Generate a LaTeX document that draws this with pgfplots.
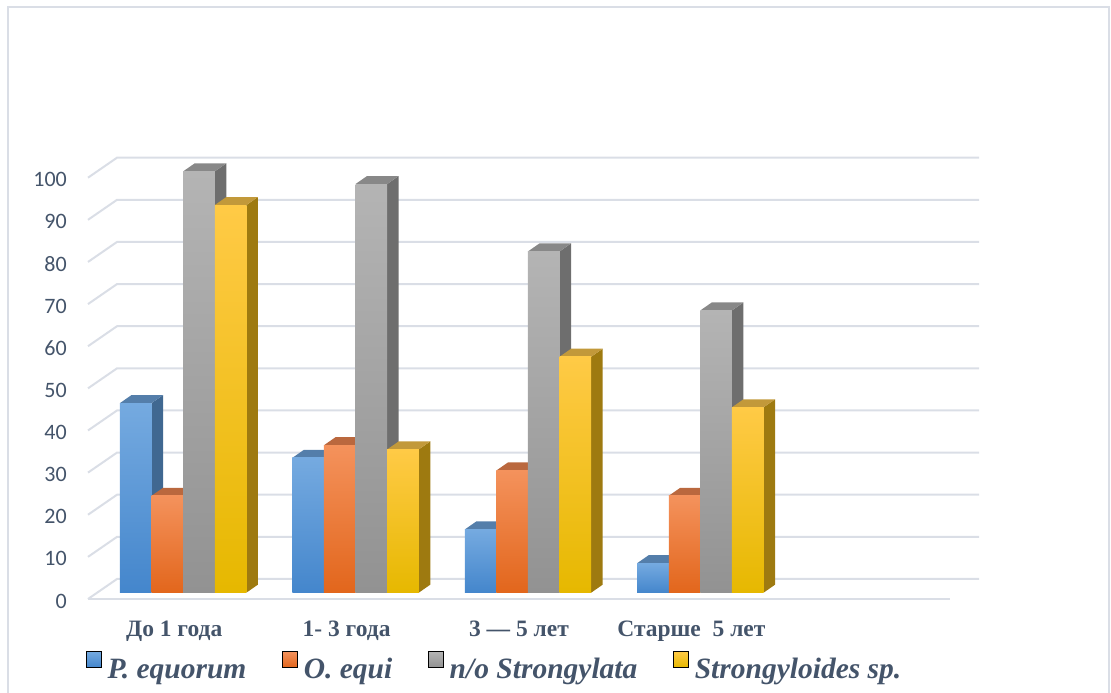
\documentclass[border=0pt]{standalone}
\usepackage{pgfplots}
\pgfplotsset{compat=1.18}
\usepackage{pgfplotstable}
\usepackage{fontspec}
\setmainfont{Liberation Serif}
\newfontfamily\calib{Carlito}
\newfontfamily\legfont{Liberation Serif}

\definecolor{gridc}{RGB}{218,222,230}
\definecolor{textc}{RGB}{68,84,106}
% front faces (top / bottom of the gradient), side and top faces
\definecolor{blueT}{RGB}{117,170,224}\definecolor{blueB}{RGB}{68,134,204}
\definecolor{blueS}{RGB}{64,104,145}\definecolor{blueU}{RGB}{84,126,170}
\definecolor{oranT}{RGB}{244,146,92}\definecolor{oranB}{RGB}{226,102,28}
\definecolor{oranS}{RGB}{176,88,38}\definecolor{oranU}{RGB}{186,104,62}
\definecolor{grayT}{RGB}{180,180,180}\definecolor{grayB}{RGB}{146,146,146}
\definecolor{grayS}{RGB}{110,110,110}\definecolor{grayU}{RGB}{136,136,136}
\definecolor{yellT}{RGB}{255,202,70}\definecolor{yellB}{RGB}{230,184,0}
\definecolor{yellS}{RGB}{158,122,16}\definecolor{yellU}{RGB}{194,153,58}

\pgfplotstableread{
grp  peq  oeq  str  sgl
0    45   23   100  92
1    32   35   97   34
2    15   29   81   56
3    7    23   67   44
}\infdata

% pseudo-3D geometry, in axis units
\def\wallx{0.1682}\def\wally{4.747}   % offset of the back wall
\def\barbase{1.5}\def\barshift{0.052} % front plane of the bars
\def\barw{0.1833}                     % bar width
\def\depx{0.0667}\def\depy{1.9}       % bar depth

% #1 column, #2 slot in group, #3/#4 front gradient, #5 side, #6 top
\newcommand\barseries[6]{%
  \pgfplotsforeachungrouped \gi in {0,1,2,3}{%
    \pgfplotstablegetelem{\gi}{#1}\of\infdata
    \let\barval\pgfplotsretval
    \pgfmathsetmacro\xl{\gi+\barshift+(#2-2)*\barw}%
    \pgfmathsetmacro\xr{\xl+\barw}%
    \pgfmathsetmacro\yt{\barbase+\barval}%
    \pgfmathsetmacro\xlb{\xl+\depx}%
    \pgfmathsetmacro\xrb{\xr+\depx}%
    \pgfmathsetmacro\ytb{\yt+\depy}%
    \pgfmathsetmacro\ybb{\barbase+\depy}%
    \edef\doplot{%
      \noexpand\addplot[forget plot, draw=none, fill=#5] coordinates {(\xr,\barbase) (\xr,\yt) (\xrb,\ytb) (\xrb,\ybb)} -- cycle;
      \noexpand\addplot[forget plot, draw=none, fill=#6] coordinates {(\xl,\yt) (\xr,\yt) (\xrb,\ytb) (\xlb,\ytb)} -- cycle;
      \noexpand\addplot[forget plot, draw=none, top color=#3, bottom color=#4] coordinates {(\xl,\barbase) (\xr,\barbase) (\xr,\yt) (\xl,\yt)} -- cycle;
    }%
    \doplot
  }%
}

\newcommand\legtext[1]{{\legfont\bfseries\itshape\fontsize{29.5}{29.5}\selectfont #1}}

\begin{document}
\begin{tikzpicture}
\path[use as bounding box] (0,0) rectangle (1111pt,693pt);
\draw[gridc, line width=2pt] (8pt,-10pt) -- (8pt,686pt) -- (1109pt,686pt) -- (1109pt,-10pt);
\begin{axis}[
  at={(88pt,94pt)}, anchor=south west,
  scale only axis, width=862pt, height=421.3pt,
  xmin=-0.5, xmax=4.5, ymin=0, ymax=100,
  clip=false,
  axis line style={draw=none},
  major tick length=0pt,
  ytick={0,10,...,100},
  xtick={0,1,2,3},
  xticklabels={До 1 года, 1- 3 года, 3 — 5 лет, Старше\ \ 5 лет},
  /pgf/number format/assume math mode=true,
  yticklabel style={font=\calib\fontsize{22}{22}\selectfont, text=textc, inner sep=0pt, anchor=east, xshift=-21pt, yshift=-2pt},
  xticklabel style={font=\bfseries\fontsize{23.5}{23.5}\selectfont, text=textc, inner sep=0pt, anchor=base, yshift=-38pt},
  legend columns=4,
  legend style={at={(0,0)}, anchor=north west, xshift=-2pt, yshift=-52pt,
    draw=none, fill=none, inner sep=0pt, text=textc,
    nodes={inner sep=0pt},
    /tikz/every even column/.append style={column sep=36pt},
    /tikz/every odd column/.append style={column sep=6pt}},
]
% back wall and side grid
\pgfplotsforeachungrouped \gv in {0,10,...,100}{%
  \pgfmathsetmacro\gb{\gv+\wally}%
  \pgfmathsetmacro\xa{-0.5+\wallx}%
  \pgfmathsetmacro\xb{4.5+\wallx}%
  \edef\doplot{\noexpand\addplot[forget plot, gridc, line width=2pt] coordinates {(-0.5,\gv) (\xa,\gb) (\xb,\gb)};}%
  \doplot
}
\addplot[forget plot, gridc, line width=2pt] coordinates {(-0.5,0) (4.5,0)};

\barseries{peq}{0}{blueT}{blueB}{blueS}{blueU}
\barseries{oeq}{1}{oranT}{oranB}{oranS}{oranU}
\barseries{str}{2}{grayT}{grayB}{grayS}{grayU}
\barseries{sgl}{3}{yellT}{yellB}{yellS}{yellU}

\addlegendimage{legend image code/.code={\shade[top color=blueT,bottom color=blueB] (0pt,2pt) rectangle (15pt,18pt);}}
\addlegendentry{\legtext{P. equorum}}
\addlegendimage{legend image code/.code={\shade[top color=oranT,bottom color=oranB] (0pt,2pt) rectangle (15pt,18pt);}}
\addlegendentry{\legtext{O. equi}}
\addlegendimage{legend image code/.code={\shade[top color=grayT,bottom color=grayB] (0pt,2pt) rectangle (15pt,18pt);}}
\addlegendentry{\legtext{n/o Strongylata}}
\addlegendimage{legend image code/.code={\shade[top color=yellT,bottom color=yellB] (0pt,2pt) rectangle (15pt,18pt);}}
\addlegendentry{\legtext{Strongyloides sp.}}
\end{axis}
\end{tikzpicture}
\end{document}
